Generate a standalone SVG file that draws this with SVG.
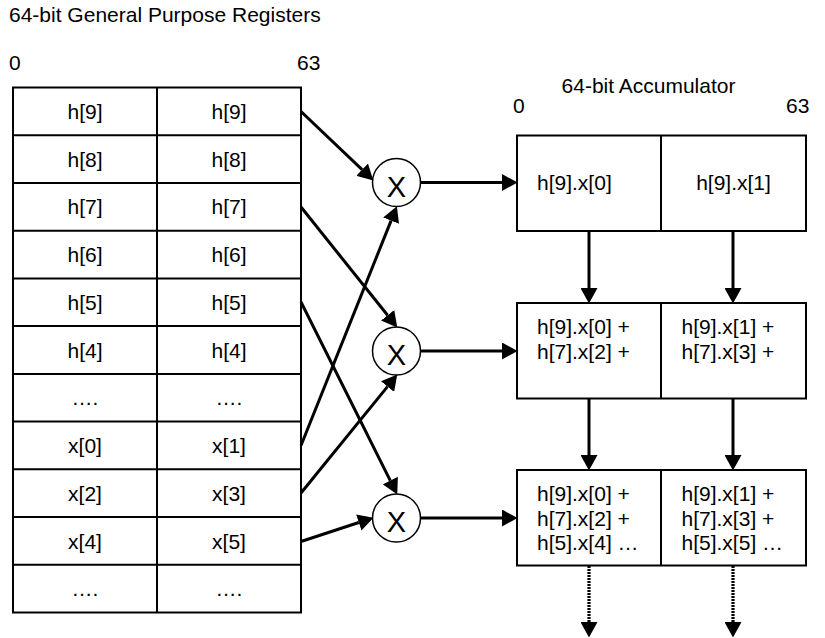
<svg xmlns="http://www.w3.org/2000/svg" width="825" height="638" viewBox="0 0 825 638">
<style>
text{font-family:"Liberation Sans",Arial,sans-serif;font-size:21px;fill:#000}
.c{text-anchor:middle}
.cell{fill:#fff;stroke:#000;stroke-width:2}
.grid{stroke:#000;stroke-width:2}
.mul{fill:#fff;stroke:#000;stroke-width:1.5}
.mx{font-size:29px;text-anchor:middle}
.arr{stroke:#000;stroke-width:3;fill:none;marker-end:url(#ah)}
.dot{stroke:#000;stroke-width:3.2;fill:none;stroke-dasharray:2 1;marker-end:url(#ah)}
</style>
<defs>
<marker id="ah" markerUnits="userSpaceOnUse" markerWidth="16" markerHeight="17" refX="0" refY="8.5" orient="auto" viewBox="0 0 16 17">
<path d="M0,0 L15.5,8.5 L0,17 z" fill="#000"/>
</marker>
</defs>
<rect width="825" height="638" fill="#fff"/>
<g id="labels">
<text x="9" y="22">64-bit General Purpose Registers</text>
<text x="9" y="70">0</text>
<text x="297" y="70">63</text>
<text x="648.5" y="93" class="c">64-bit Accumulator</text>
<text x="513" y="113">0</text>
<text x="786" y="113">63</text>
</g>
<g id="registers">
<rect class="cell" x="13" y="87.5" width="288" height="525"/>
<line class="grid" x1="157" y1="87.5" x2="157" y2="612.5"/>
<line class="grid" x1="13" y1="135.2" x2="301" y2="135.2"/>
<line class="grid" x1="13" y1="183" x2="301" y2="183"/>
<line class="grid" x1="13" y1="230.7" x2="301" y2="230.7"/>
<line class="grid" x1="13" y1="278.4" x2="301" y2="278.4"/>
<line class="grid" x1="13" y1="326.1" x2="301" y2="326.1"/>
<line class="grid" x1="13" y1="373.9" x2="301" y2="373.9"/>
<line class="grid" x1="13" y1="421.6" x2="301" y2="421.6"/>
<line class="grid" x1="13" y1="469.3" x2="301" y2="469.3"/>
<line class="grid" x1="13" y1="517.1" x2="301" y2="517.1"/>
<line class="grid" x1="13" y1="564.8" x2="301" y2="564.8"/>
<text class="c" x="85" y="119">h[9]</text><text class="c" x="229" y="119">h[9]</text>
<text class="c" x="85" y="166.7">h[8]</text><text class="c" x="229" y="166.7">h[8]</text>
<text class="c" x="85" y="214.4">h[7]</text><text class="c" x="229" y="214.4">h[7]</text>
<text class="c" x="85" y="262.2">h[6]</text><text class="c" x="229" y="262.2">h[6]</text>
<text class="c" x="85" y="309.9">h[5]</text><text class="c" x="229" y="309.9">h[5]</text>
<text class="c" x="85" y="357.6">h[4]</text><text class="c" x="229" y="357.6">h[4]</text>
<text class="c" x="85" y="405.4">….</text><text class="c" x="229" y="405.4">….</text>
<text class="c" x="85" y="453.1">x[0]</text><text class="c" x="229" y="453.1">x[1]</text>
<text class="c" x="85" y="500.9">x[2]</text><text class="c" x="229" y="500.9">x[3]</text>
<text class="c" x="85" y="548.6">x[4]</text><text class="c" x="229" y="548.6">x[5]</text>
<text class="c" x="85" y="596.3">….</text><text class="c" x="229" y="596.3">….</text>
</g>
<g id="mul1">
<circle class="mul" cx="396.5" cy="182.5" r="24"/>
<text class="mx" x="396.5" y="196.5">X</text>
</g>
<g id="mul2">
<circle class="mul" cx="396.5" cy="351" r="24"/>
<text class="mx" x="396.5" y="365">X</text>
</g>
<g id="mul3">
<circle class="mul" cx="396.5" cy="518" r="24"/>
<text class="mx" x="396.5" y="532">X</text>
</g>
<g id="acc1">
<rect class="cell" x="517" y="135.5" width="289" height="95.5"/>
<line class="grid" x1="661" y1="135.5" x2="661" y2="231"/>
<text x="537" y="190">h[9].x[0]</text>
<text class="c" x="733.5" y="190">h[9].x[1]</text>
</g>
<g id="acc2">
<rect class="cell" x="517" y="303" width="289" height="95.5"/>
<line class="grid" x1="661" y1="303" x2="661" y2="398.5"/>
<text x="537" y="334">h[9].x[0] +</text>
<text x="537" y="358.5">h[7].x[2] +</text>
<text x="681.5" y="334">h[9].x[1] +</text>
<text x="681.5" y="358.5">h[7].x[3] +</text>
</g>
<g id="acc3">
<rect class="cell" x="517" y="470" width="289" height="95.5"/>
<line class="grid" x1="661" y1="470" x2="661" y2="565.5"/>
<text x="537" y="501">h[9].x[0] +</text>
<text x="537" y="525.5">h[7].x[2] +</text>
<text x="537" y="550">h[5].x[4] …</text>
<text x="681.5" y="501">h[9].x[1] +</text>
<text x="681.5" y="525.5">h[7].x[3] +</text>
<text x="681.5" y="550">h[5].x[5] …</text>
</g>
<g id="connectors">
<line class="arr" x1="301" y1="111.5" x2="362.1" y2="169.7"/>
<line class="arr" x1="301" y1="207" x2="387.6" y2="315.3"/>
<line class="arr" x1="301" y1="302" x2="390.3" y2="480.6"/>
<line class="arr" x1="301" y1="445.5" x2="391.1" y2="220.6"/>
<line class="arr" x1="301" y1="493" x2="387.5" y2="386.6"/>
<line class="arr" x1="301" y1="541.5" x2="358.8" y2="522.5"/>
<line class="arr" x1="420.5" y1="182.5" x2="502" y2="182.5"/>
<line class="arr" x1="420.5" y1="351" x2="502" y2="351"/>
<line class="arr" x1="420.5" y1="518" x2="502" y2="518"/>
<line class="arr" x1="589" y1="231" x2="589" y2="288"/>
<line class="arr" x1="733" y1="231" x2="733" y2="288"/>
<line class="arr" x1="589" y1="398.5" x2="589" y2="455"/>
<line class="arr" x1="733" y1="398.5" x2="733" y2="455"/>
<line class="dot" x1="589" y1="566" x2="589" y2="622"/>
<line class="dot" x1="733" y1="566" x2="733" y2="622"/>
</g>
</svg>
